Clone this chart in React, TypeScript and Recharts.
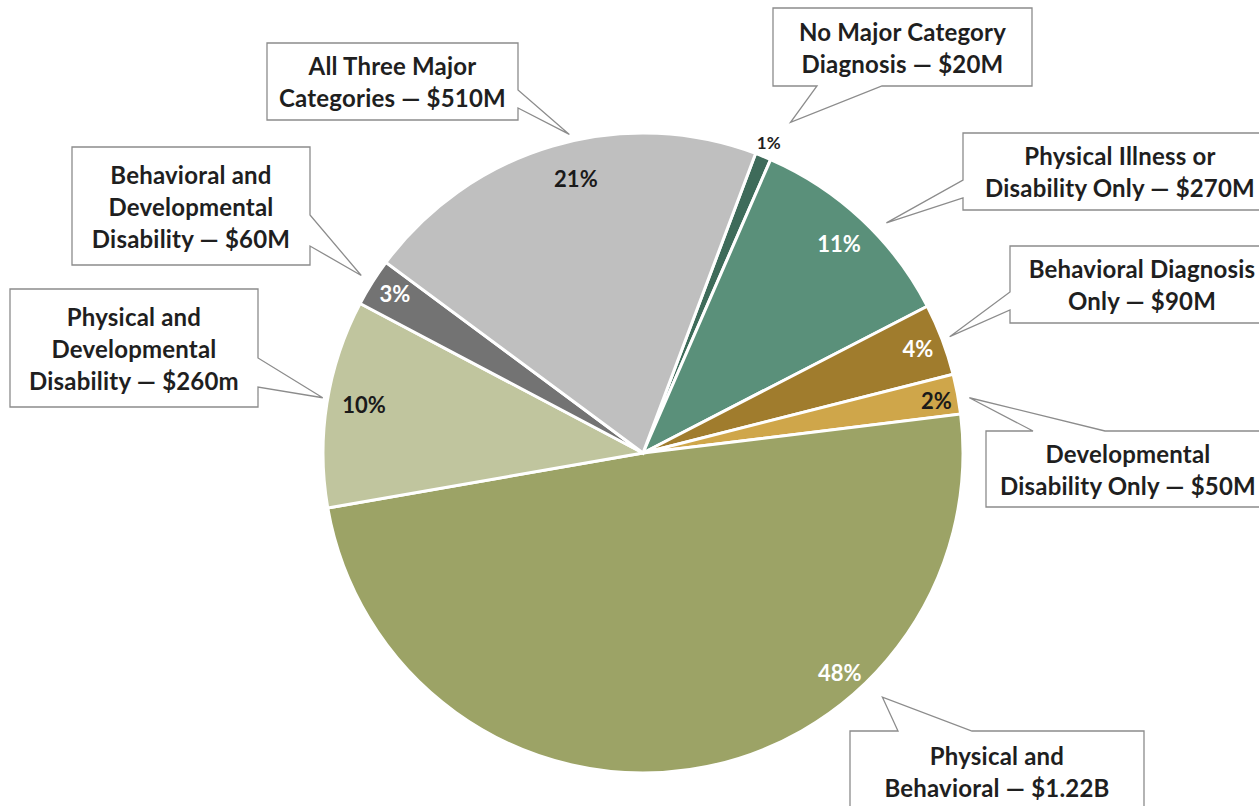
import { PieChart, Pie, Cell } from 'recharts'

const categories = [
  'No Major Category Diagnosis',
  'Physical Illness or Disability Only',
  'Behavioral Diagnosis Only',
  'Developmental Disability Only',
  'Physical and Behavioral',
  'Physical and Developmental Disability',
  'Behavioral and Developmental Disability',
  'All Three Major Categories',
]
const spendMillions = [20, 270, 90, 50, 1220, 260, 60, 510]
const shareLabels = ['1%', '11%', '4%', '2%', '48%', '10%', '3%', '21%']
const calloutLines = [
  ['No Major Category', 'Diagnosis — $20M'],
  ['Physical Illness or', 'Disability Only — $270M'],
  ['Behavioral Diagnosis', 'Only — $90M'],
  ['Developmental', 'Disability Only — $50M'],
  ['Physical and', 'Behavioral — $1.22B'],
  ['Physical and', 'Developmental', 'Disability — $260m'],
  ['Behavioral and', 'Developmental', 'Disability — $60M'],
  ['All Three Major', 'Categories — $510M'],
]

const sliceColors = ['#3e6b5a', '#5a907a', '#a07c2d', '#cfa64a', '#9ca366', '#c0c59e', '#737373', '#bfbfbf']
const labelColors = ['#1f1f1f', '#fff', '#fff', '#1a1a1a', '#fff', '#1a1a1a', '#fff', '#1a1a1a']

// callout boxes, placed by hand like the original; tail tip follows the slice
type Side = 'left' | 'right' | 'top' | 'bottom'
const callouts: { x: number; y: number; w: number; h: number; side: Side; a: number; b: number; gap: number; tipTurn: number; labelR: number; labelTurn: number; labelSize: number }[] = [
  { x: 773, y: 8, w: 259, h: 78, side: 'bottom', a: 817, b: 882, gap: 42, tipTurn: 2, labelR: 335, labelTurn: 0, labelSize: 17 },
  { x: 963, y: 133, w: 314, h: 77, side: 'left', a: 180, b: 198, gap: 15, tipTurn: 3.5, labelR: 287, labelTurn: 0, labelSize: 22 },
  { x: 1010, y: 246, w: 264, h: 77, side: 'left', a: 292, b: 310, gap: 8, tipTurn: 0, labelR: 294, labelTurn: 0, labelSize: 22 },
  { x: 986, y: 431, w: 284, h: 76, side: 'top', a: 1033, b: 1105, gap: 11, tipTurn: 1, labelR: 298, labelTurn: 0.5, labelSize: 22 },
  { x: 850, y: 731, w: 294, h: 80, side: 'top', a: 898, b: 972, gap: 22, tipTurn: -36, labelR: 295, labelTurn: -33.4, labelSize: 22 },
  { x: 10, y: 289, w: 248, h: 118, side: 'right', a: 358, b: 387, gap: 5, tipTurn: 0.8, labelR: 283, labelTurn: 0.8, labelSize: 22 },
  { x: 72, y: 147, w: 238, h: 118, side: 'right', a: 215, b: 246, gap: 13, tipTurn: 0, labelR: 295, labelTurn: 0.5, labelSize: 22 },
  { x: 267, y: 43, w: 251, h: 77, side: 'right', a: 90, b: 108, gap: 7, tipTurn: 3.4, labelR: 283, labelTurn: 2.7, labelSize: 22 },
]

const rows = categories.map((name, i) => ({ name, value: spendMillions[i] }))

const FONT = 'Lato, "Open Sans", sans-serif'
const RAD = Math.PI / 180

function polar(cx: number, cy: number, r: number, angle: number) {
  return { x: cx + r * Math.cos(-angle * RAD), y: cy + r * Math.sin(-angle * RAD) }
}

function calloutPath(c: (typeof callouts)[number], tip: { x: number; y: number }) {
  const { x, y, w, h, a, b } = c
  const r = x + w
  const btm = y + h
  const t = `${tip.x},${tip.y}`
  if (c.side === 'right') return `M${x},${y}L${r},${y}L${r},${a}L${t}L${r},${b}L${r},${btm}L${x},${btm}Z`
  if (c.side === 'left') return `M${x},${y}L${r},${y}L${r},${btm}L${x},${btm}L${x},${b}L${t}L${x},${a}Z`
  if (c.side === 'top') return `M${x},${y}L${a},${y}L${t}L${b},${y}L${r},${y}L${r},${btm}L${x},${btm}Z`
  return `M${x},${y}L${r},${y}L${r},${btm}L${b},${btm}L${t}L${a},${btm}L${x},${btm}Z`
}

function renderLabel(props: any) {
  const { cx, cy, midAngle, outerRadius, index } = props
  const c = callouts[index]
  const tip = polar(cx, cy, outerRadius + c.gap, midAngle - c.tipTurn)
  const pos = polar(cx, cy, c.labelR, midAngle - c.labelTurn)
  const lines = calloutLines[index]
  const mid = c.y + c.h / 2
  return (
    <g key={`lbl-${index}`}>
      <path d={calloutPath(c, tip)} fill="#fff" stroke="#8c8c8c" strokeWidth={1.3} />
      {lines.map((line, j) => (
        <text
          key={j}
          x={c.x + c.w / 2}
          y={mid + (j - (lines.length - 1) / 2) * 32}
          textAnchor="middle"
          dominantBaseline="central"
          fontFamily={FONT}
          fontWeight={700}
          fontSize={24}
          letterSpacing={0.2}
          fill="#1f1f1f"
        >
          {line}
        </text>
      ))}
      <text
        x={pos.x}
        y={pos.y}
        textAnchor="middle"
        dominantBaseline="central"
        fontFamily={FONT}
        fontWeight={700}
        fontSize={c.labelSize}
        fill={labelColors[index]}
      >
        {shareLabels[index]}
      </text>
    </g>
  )
}

export default function App() {
  return (
    <div style={{ position: 'fixed', left: 0, top: 0, width: 1259, height: 806, background: '#fff' }}>
      <PieChart width={1259} height={806} margin={{ top: 0, right: 0, bottom: 0, left: 0 }}>
        <Pie
          data={rows}
          dataKey="value"
          nameKey="name"
          cx={643}
          cy={453}
          outerRadius={320}
          startAngle={69.4}
          endAngle={-290.6}
          stroke="#fff"
          strokeWidth={3}
          label={renderLabel}
          labelLine={false}
          isAnimationActive={false}
        >
          {rows.map((r, i) => (
            <Cell key={r.name} fill={sliceColors[i]} />
          ))}
        </Pie>
      </PieChart>
    </div>
  )
}
